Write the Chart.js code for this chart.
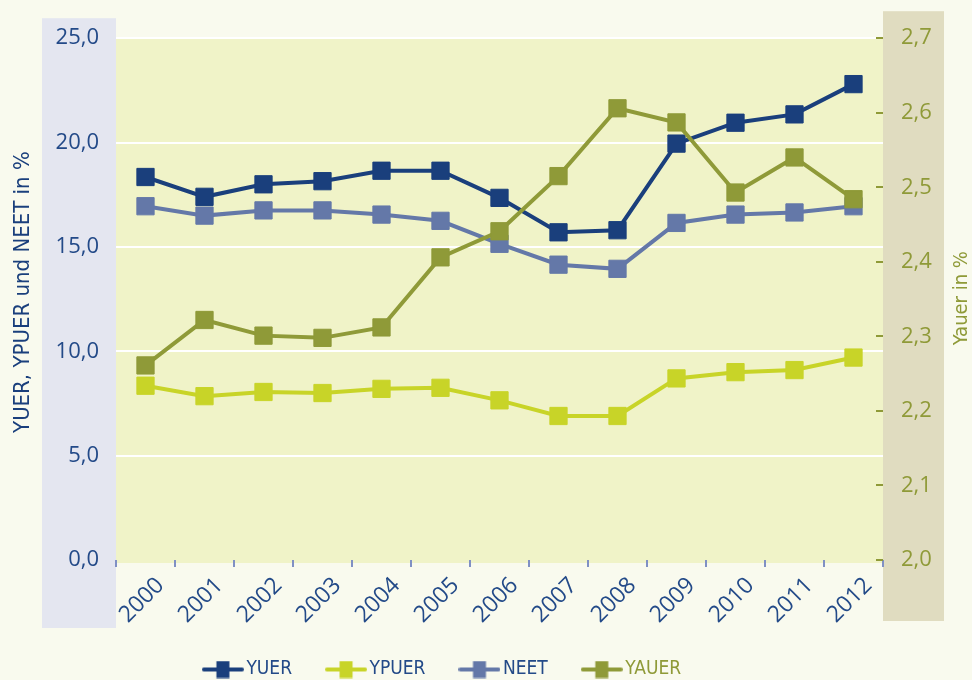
<!DOCTYPE html>
<html>
<head>
<meta charset="utf-8">
<script src="https://cdn.jsdelivr.net/npm/chart.js@4.4.1/dist/chart.umd.min.js"></script>
<style>
  html, body { margin: 0; padding: 0; background: #f9faee; }
  #wrap { width: 972px; height: 680px; }
</style>
</head>
<body>
<div id="wrap"><canvas id="chart" width="972" height="680"></canvas></div>
<script>
const years = ['2000', '2001', '2002', '2003', '2004', '2005', '2006', '2007', '2008', '2009', '2010', '2011', '2012'];
const yuer  = [18.35, 17.4, 18.0, 18.15, 18.65, 18.65, 17.35, 15.7, 15.8, 19.95, 20.95, 21.35, 22.8];
const ypuer = [8.35, 7.85, 8.05, 8.0, 8.2, 8.25, 7.65, 6.9, 6.9, 8.7, 9.0, 9.1, 9.7];
const neet  = [16.95, 16.5, 16.75, 16.75, 16.55, 16.25, 15.15, 14.15, 13.95, 16.15, 16.55, 16.65, 16.95];
const yauer = [2.261, 2.322, 2.301, 2.298, 2.312, 2.406, 2.441, 2.515, 2.606, 2.587, 2.493, 2.540, 2.484];
const leftTicks  = [0, 5, 10, 15, 20, 25];
const rightTicks = [2.0, 2.1, 2.2, 2.3, 2.4, 2.5, 2.6, 2.7];

const NAVY = '#1a3f7c';
const LIME = '#c8d428';
const SLATE = '#6478a8';
const OLIVE = '#8f9a38';
const LABEL_BLUE = '#234a88';
const NARROW = "'DejaVu Sans Condensed', sans-serif";
const TICKFONT = "'Open Sans', sans-serif";

const fmt = v => v.toFixed(1).replace('.', ',');

// little line+square icon for the legend
function legendIcon(color) {
    const c = document.createElement('canvas');
    c.width = 42; c.height = 18;
    const g = c.getContext('2d');
    g.strokeStyle = color;
    g.lineWidth = 4;
    g.lineCap = 'round';
    g.beginPath(); g.moveTo(2, 9); g.lineTo(40, 9); g.stroke();
    g.fillStyle = color;
    g.fillRect(14.5, 0.5, 13, 17);
    return c;
}

function series(label, data, color, axis, order) {
    return {
        label, data, yAxisID: axis, order,
        borderColor: color, backgroundColor: color,
        borderWidth: 4, tension: 0,
        pointStyle: 'rect', pointRadius: 12.2, pointHoverRadius: 12.2,
        pointBorderWidth: 1, pointBackgroundColor: color, pointBorderColor: color
    };
}

function drawTitle(ctx, text, x, y, size, color) {
    ctx.save();
    ctx.font = size + 'px ' + NARROW;
    ctx.textAlign = 'center';
    ctx.textBaseline = 'middle';
    ctx.translate(x, y);
    ctx.rotate(-Math.PI / 2);
    ctx.fillStyle = color;
    ctx.fillText(text, 0, 0);
    ctx.restore();
}

const panels = {
    id: 'panels',
    beforeDraw(chart) {
        const { ctx, chartArea: ca, width, height } = chart;
        ctx.save();
        ctx.fillStyle = '#f9faee';
        ctx.fillRect(0, 0, width, height);
        ctx.fillStyle = '#e4e6f0';
        ctx.fillRect(ca.left - 74, ca.top - 20, 74, ca.bottom - ca.top + 88);
        ctx.fillStyle = '#e0dcc0';
        ctx.fillRect(ca.right, ca.top - 27, 61, ca.bottom - ca.top + 88);
        ctx.fillStyle = '#f0f3c8';
        ctx.fillRect(ca.left, ca.top, ca.right - ca.left, ca.bottom - ca.top + 3);
        ctx.restore();
    },
    afterLayout(chart) {
        const lg = chart.legend;
        lg.left -= 41; lg.right -= 41;
        lg.top += 9; lg.bottom += 9;
        // let the rotated year labels run past the axis box
        chart.scales.x.bottom = chart.height;
    },
    afterDraw(chart) {
        const { ctx, chartArea: ca } = chart;
        const mid = (ca.top + ca.bottom) / 2;
        drawTitle(ctx, 'YUER, YPUER und NEET in %', 23, mid - 7, 22, NAVY);
        drawTitle(ctx, 'Yauer in %', 962, mid - 1, 20, OLIVE);
    }
};

new Chart(document.getElementById('chart'), {
    type: 'line',
    data: {
        labels: years,
        datasets: [
            series('YUER', yuer, NAVY, 'y', 4),
            series('YPUER', ypuer, LIME, 'y', 3),
            series('NEET', neet, SLATE, 'y', 2),
            series('YAUER', yauer, OLIVE, 'y1', 1)
        ]
    },
    options: {
        responsive: false,
        animation: false,
        devicePixelRatio: 1,
        layout: { padding: { top: 38, left: 0, right: 0, bottom: 0 } },
        plugins: {
            tooltip: { enabled: false },
            legend: {
                position: 'bottom',
                labels: {
                    usePointStyle: true,
                    pointStyleWidth: 28,
                    padding: 40,
                    font: { family: NARROW, size: 19 },
                    generateLabels(chart) {
                        const textColors = [LABEL_BLUE, LABEL_BLUE, LABEL_BLUE, OLIVE];
                        return chart.data.datasets.map((ds, i) => ({
                            text: ds.label,
                            fontColor: textColors[i],
                            pointStyle: legendIcon(ds.borderColor),
                            fillStyle: ds.borderColor,
                            strokeStyle: ds.borderColor,
                            lineWidth: 0,
                            hidden: false,
                            datasetIndex: i
                        }));
                    }
                }
            }
        },
        scales: {
            x: {
                offset: true,
                afterFit(s) { s.height = 51; },
                grid: { offset: true, drawOnChartArea: false, tickLength: 7, color: '#8090c4', lineWidth: 2 },
                border: { display: false },
                ticks: {
                    autoSkip: false, maxRotation: 45, minRotation: 45,
                    labelOffset: 15, padding: 5,
                    color: LABEL_BLUE, font: { family: TICKFONT, size: 23 }
                }
            },
            y: {
                position: 'left',
                min: leftTicks[0], max: leftTicks[leftTicks.length - 1],
                afterFit(s) { s.width = 116; },
                afterBuildTicks(s) { s.ticks = leftTicks.map(v => ({ value: v })); },
                grid: {
                    drawTicks: false,
                    lineWidth: 2,
                    color: c => c.tick && c.tick.value === 0 ? 'rgba(0,0,0,0)' : '#ffffff'
                },
                border: { display: false },
                ticks: {
                    padding: 17, color: LABEL_BLUE,
                    font: { family: TICKFONT, size: 22 },
                    callback: v => fmt(v)
                }
            },
            y1: {
                position: 'right',
                min: rightTicks[0], max: rightTicks[rightTicks.length - 1],
                afterFit(s) { s.width = 89; },
                afterBuildTicks(s) { s.ticks = rightTicks.map(v => ({ value: v })); },
                grid: { drawOnChartArea: false, tickLength: -7, color: OLIVE, lineWidth: 2 },
                border: { display: false },
                ticks: {
                    padding: 25, color: OLIVE,
                    font: { family: TICKFONT, size: 22 },
                    callback: v => fmt(v)
                }
            }
        }
    },
    plugins: [panels]
});
</script>
</body>
</html>
